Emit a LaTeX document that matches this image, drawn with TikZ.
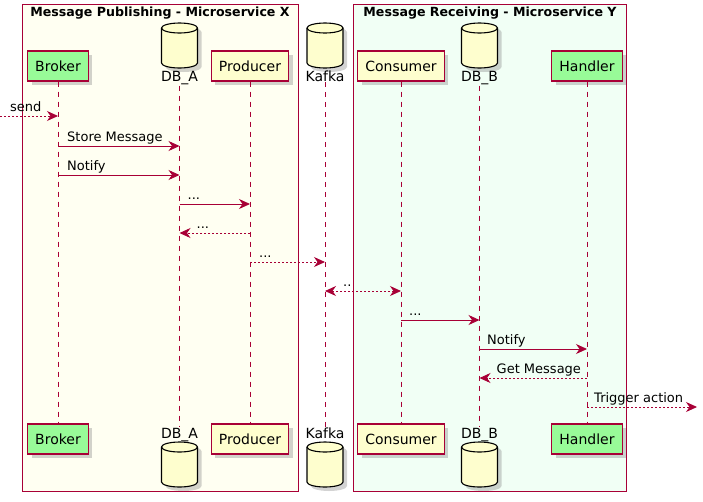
\documentclass[tikz,border=0pt]{standalone}
\usepackage{fontspec}
\setmainfont{DejaVu Sans}
\usetikzlibrary{arrows.meta,shadows}
\definecolor{crim}{HTML}{A80036}
\definecolor{pfill}{HTML}{FEFECE}
\definecolor{pgreen}{HTML}{98FB98}
\definecolor{boxX}{HTML}{FFFFF2}
\definecolor{boxY}{HTML}{F1FFF5}
\begin{document}
\begin{tikzpicture}[x=1pt,y=-1pt,
  shad/.style={drop shadow={shadow xshift=4pt,shadow yshift=-4pt,opacity=0.35}},
  part/.style={draw=crim,line width=1.1pt,fill=pfill,minimum height=30pt,inner xsep=7.5pt,
    font=\fontsize{14}{16}\selectfont,shad},
  partg/.style={part,fill=pgreen},
  dblabel/.style={font=\fontsize{14}{16}\selectfont,inner sep=1pt,anchor=base},
  grp/.style={draw=crim,line width=0.8pt},
  grptitle/.style={font=\bfseries\fontsize{12.6}{15}\selectfont,anchor=base},
  life/.style={draw=crim,line width=0.9pt,dash pattern=on 5pt off 5pt},
  msg/.style={draw=crim,line width=0.9pt,-{Stealth[length=11pt,width=10pt,inset=3.5pt]}},
  rmsg/.style={msg,dash pattern=on 2pt off 2pt},
  lbl/.style={font=\fontsize{13}{15}\selectfont,anchor=base west,inner sep=0pt},
  cyl/.style={draw=black,line width=1.1pt,fill=pfill},
]
\useasboundingbox (0,0) rectangle (703,501);
% groups
\path[grp,fill=boxX] (22,4.5) rectangle (298,491);
\path[grp,fill=boxY] (353,4.5) rectangle (626.5,491);
\node[grptitle] (tx) at (160,16) {Message Publishing - Microservice X};
\node[grptitle] (ty) at (490,16) {Message Receiving - Microservice Y};
% database cylinders
\foreach \cx/\t in {179.5/23, 325/23, 479.5/23, 179.5/442, 325/442, 479.5/442}{
  \path[cyl,shad] (\cx-18,\t+5) -- (\cx-18,\t+40)
     arc[start angle=180,end angle=360,x radius=18pt,y radius=5pt]
     -- (\cx+18,\t+5)
     arc[start angle=0,end angle=180,x radius=18pt,y radius=5pt] -- cycle;
  \draw[line width=1.1pt] (\cx-18,\t+5) arc[start angle=180,end angle=360,x radius=18pt,y radius=5pt];
}
% participants top
\node[partg] (broker) at (58,66) {Broker};
\node[dblabel] (dba) at (179.5,81) {DB\_A};
\node[part] (producer) at (250,66) {Producer};
\node[dblabel] (kafka) at (325,81) {Kafka};
\node[part] (consumer) at (401,66) {Consumer};
\node[dblabel] (dbb) at (479.5,81) {DB\_B};
\node[partg] (handler) at (587,66) {Handler};
% participants bottom
\node[partg] (brokerB) at (58,439) {Broker};
\node[dblabel] (dbaB) at (179.5,438.5) {DB\_A};
\node[part] (producerB) at (250,439) {Producer};
\node[dblabel] (kafkaB) at (325,438.5) {Kafka};
\node[part] (consumerB) at (401,439) {Consumer};
\node[dblabel] (dbbB) at (479.5,438.5) {DB\_B};
\node[partg] (handlerB) at (587,439) {Handler};
% lifelines
\draw[life] (broker.south) -- (brokerB.north);
\draw[life] (dba.south) -- (dbaB.north);
\draw[life] (producer.south) -- (producerB.north);
\draw[life] (kafka.south) -- (kafkaB.north);
\draw[life] (consumer.south) -- (consumerB.north);
\draw[life] (dbb.south) -- (dbbB.north);
\draw[life] (handler.south) -- (handlerB.north);
% message levels
\coordinate (m1) at (0,116);
\coordinate (m2) at (0,146);
\coordinate (m3) at (0,175);
\coordinate (m4) at (0,204);
\coordinate (m5) at (0,233);
\coordinate (m6) at (0,262);
\coordinate (m7) at (0,291);
\coordinate (m8) at (0,320);
\coordinate (m9) at (0,349);
\coordinate (m10) at (0,378);
\coordinate (m11) at (0,407);
\coordinate (out) at (697,407);
% messages
\draw[rmsg] (m1) -- (broker |- m1);
\node[lbl] (l1) at (10,111) {send};
\draw[msg] (broker |- m2) -- (dba |- m2);
\node[lbl] (l2) at (67,141) {Store Message};
\draw[msg] (broker |- m3) -- (dba |- m3);
\node[lbl] (l3) at (67,170) {Notify};
\draw[msg] (dba |- m4) -- (producer |- m4);
\node[lbl] (l4) at (187.5,199) {...};
\draw[rmsg] (producer |- m5) -- (dba |- m5);
\node[lbl] (l5) at (196.5,228) {...};
\draw[rmsg] (producer |- m6) -- (kafka |- m6);
\node[lbl] (l6) at (259,257) {...};
\draw[rmsg,{Stealth[length=11pt,width=10pt,inset=3.5pt]}-{Stealth[length=11pt,width=10pt,inset=3.5pt]}] (kafka |- m7) -- (consumer |- m7);
\node[lbl] (l7) at (343,286) {..};
\draw[msg] (consumer |- m8) -- (dbb |- m8);
\node[lbl] (l8) at (409,315) {...};
\draw[msg] (dbb |- m9) -- (handler |- m9);
\node[lbl] (l9) at (487,344) {Notify};
\draw[rmsg] (handler |- m10) -- (dbb |- m10);
\node[lbl] (l10) at (496.5,373) {Get Message};
\draw[rmsg] (handler |- m11) -- (out);
\node[lbl] (l11) at (594,402) {Trigger action};
\end{tikzpicture}
\end{document}
